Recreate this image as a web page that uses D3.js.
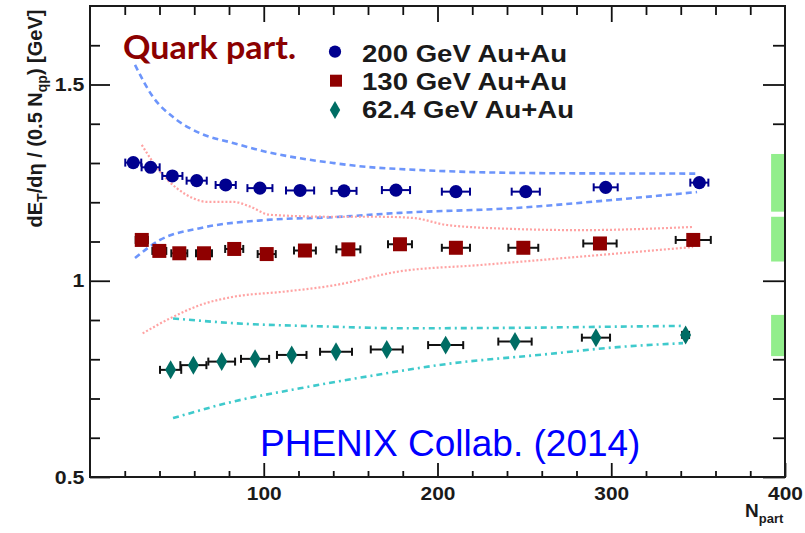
<!DOCTYPE html>
<html>
<head>
<meta charset="utf-8">
<script src="https://cdn.jsdelivr.net/npm/d3@7"></script>
<style>
  html, body { margin: 0; padding: 0; background: #fff; }
  svg { display: block; }
</style>
</head>
<body>
<svg id="chart" width="805" height="533"></svg>
<script>
// ---- data: transverse energy per quark participant pair vs N_part ----
const npart200 = [24.9, 34.9, 47.4, 61.4, 78.1, 97.8, 120.9, 146.2, 176.1, 210.6, 250.8, 296.8, 350.7];
const et200    = [1.301, 1.289, 1.267, 1.255, 1.244, 1.236, 1.230, 1.229, 1.231, 1.227, 1.227, 1.238, 1.250];
const xerr200  = [4.6, 5.2, 5.8, 5.8, 5.8, 7.2, 8.1, 7.2, 8.1, 8.1, 8.1, 6.9, 5.2];

const npart130 = [29.8, 39.9, 51.4, 65.6, 83.0, 101.7, 123.7, 148.7, 178.4, 210.6, 249.4, 293.5, 347.2];
const et130    = [1.104, 1.076, 1.070, 1.070, 1.081, 1.068, 1.077, 1.080, 1.093, 1.084, 1.084, 1.095, 1.104];
const xerr130  = [3.5, 4.0, 4.6, 4.6, 5.2, 5.2, 6.3, 6.9, 6.9, 8.1, 8.6, 9.6, 10.1];

const npart62 = [46.4, 59.5, 75.8, 95.0, 116.1, 141.6, 170.8, 204.7, 244.6, 291.2, 342.8];
const et62    = [0.773, 0.785, 0.794, 0.801, 0.811, 0.819, 0.825, 0.836, 0.845, 0.855, 0.862];
const xerr62  = [6.1, 7.5, 7.7, 8.1, 8.5, 9.2, 9.2, 10.1, 9.6, 8.1, 2.0];

// systematic uncertainty envelopes
const band200UpX = [25.9, 36.3, 47.8, 63.3, 82.3, 101.9, 120.9, 139.9, 159.4, 172.7, 263.0, 349.4];
const band200UpY = [1.550, 1.468, 1.417, 1.376, 1.351, 1.328, 1.312, 1.300, 1.290, 1.286, 1.274, 1.273];
const band200LoX = [25.9, 40.3, 63.3, 101.9, 139.9, 178.4, 243.5, 301.0, 349.4];
const band200LoY = [1.058, 1.104, 1.134, 1.155, 1.162, 1.173, 1.185, 1.206, 1.226];

const band130UpX = [29.8, 40.3, 49.9, 59.5, 67.2, 82.5, 92.1, 103.6, 139.9, 166.9, 185.9, 205.5, 243.5, 282.0, 347.1];
const band130UpY = [1.346, 1.278, 1.236, 1.210, 1.201, 1.201, 1.189, 1.168, 1.163, 1.163, 1.160, 1.142, 1.132, 1.129, 1.137];
const band130LoX = [30.3, 47.8, 63.3, 82.3, 111.1, 139.9, 178.4, 224.5, 270.5, 347.1];
const band130LoY = [0.866, 0.908, 0.938, 0.959, 0.972, 0.988, 1.024, 1.040, 1.057, 1.086];

const band62UpX = [47.8, 82.3, 139.9, 178.4, 243.5, 301.0, 341.3];
const band62UpY = [0.904, 0.892, 0.883, 0.879, 0.880, 0.883, 0.885];
const band62LoX = [47.8, 82.3, 120.9, 159.4, 205.5, 263.0, 301.0, 341.3];
const band62LoY = [0.650, 0.692, 0.726, 0.756, 0.788, 0.813, 0.830, 0.841];

// global scale uncertainties (boxes at the right edge)
const scaleBoxX  = [392, 400];
const scaleBoxLo = [1.176, 1.049, 0.808];
const scaleBoxHi = [1.323, 1.163, 0.913];

const xTickMajor = [100, 200, 300, 400];
const yTickMajor = [0.5, 1.0, 1.5];
const yTickLabels = ["0.5", "1", "1.5"];
const legendLabels = ["200 GeV Au+Au", "130 GeV Au+Au", "62.4 GeV Au+Au"];

// ---- layout ----
const svg = d3.select("#chart");
const L = 90, R = 785, T = 6, B = 477;
const x = d3.scaleLinear().domain([0, 400]).range([L, R]);
const y = d3.scaleLinear().domain([0.5, 1.7]).range([B, T]);

const ROOTFONT = "'Liberation Sans', Arial, sans-serif";
const col200 = "#00008f", col130 = "#8f0000", col62 = "#006d64";

// ---- axes (ticks drawn inward on all four sides) ----
const xMinor = d3.range(20, 400, 20).filter(v => v % 100 !== 0);
const yMinor = d3.range(0.6, 1.7, 0.1).map(v => +v.toFixed(1)).filter(v => Math.abs(v - 1.0) > 1e-6 && Math.abs(v - 1.5) > 1e-6);

function styleAxis(g) {
  g.select(".domain").remove();
  g.selectAll(".tick line").attr("stroke", "#111").attr("stroke-width", 1.8);
}

// bottom
svg.append("g").attr("transform", `translate(0,${B})`)
  .call(d3.axisBottom(x).tickValues(xMinor).tickSize(-6).tickSizeOuter(0).tickFormat(""))
  .call(styleAxis);
const xAxisMajor = svg.append("g").attr("transform", `translate(0,${B})`)
  .call(d3.axisBottom(x).tickValues(xTickMajor).tickSize(-14).tickSizeOuter(0).tickPadding(10).tickFormat(d3.format("d")))
  .call(styleAxis);
xAxisMajor.selectAll(".tick text")
  .attr("font-family", ROOTFONT).attr("font-weight", "bold").attr("font-size", 19)
  .attr("fill", "#1a1a1a").attr("transform", "scale(1.1,1)");

// top
svg.append("g").attr("transform", `translate(0,${T})`)
  .call(d3.axisTop(x).tickValues(xMinor).tickSize(-9).tickSizeOuter(0).tickFormat(""))
  .call(styleAxis);
svg.append("g").attr("transform", `translate(0,${T})`)
  .call(d3.axisTop(x).tickValues(xTickMajor.slice(0, 3)).tickSize(-16).tickSizeOuter(0).tickFormat(""))
  .call(styleAxis);

// left
svg.append("g").attr("transform", `translate(${L},0)`)
  .call(d3.axisLeft(y).tickValues(yMinor).tickSize(-10).tickSizeOuter(0).tickFormat(""))
  .call(styleAxis);
const yAxisMajor = svg.append("g").attr("transform", `translate(${L},0)`)
  .call(d3.axisLeft(y).tickValues(yTickMajor).tickSize(-20).tickSizeOuter(0).tickPadding(5)
    .tickFormat((d, i) => yTickLabels[i]))
  .call(styleAxis);
yAxisMajor.selectAll(".tick text")
  .attr("font-family", ROOTFONT).attr("font-weight", "bold").attr("font-size", 19)
  .attr("fill", "#1a1a1a").attr("transform", "scale(1.12,1)");

// right
svg.append("g").attr("transform", `translate(${R},0)`)
  .call(d3.axisRight(y).tickValues(yMinor).tickSize(-12).tickSizeOuter(0).tickFormat(""))
  .call(styleAxis);
svg.append("g").attr("transform", `translate(${R},0)`)
  .call(d3.axisRight(y).tickValues(yTickMajor).tickSize(-22).tickSizeOuter(0).tickFormat(""))
  .call(styleAxis);

// ---- systematic envelopes ----
const line = d3.line().x(d => x(d[0])).y(d => y(d[1])).curve(d3.curveMonotoneX);
const zip = (xs, ys) => xs.map((v, i) => [v, ys[i]]);

const bands = [
  { xs: band200UpX, ys: band200UpY, color: "#6d95fb", width: 2.6, dash: "6,4" },
  { xs: band200LoX, ys: band200LoY, color: "#6d95fb", width: 2.6, dash: "6,4" },
  { xs: band130UpX, ys: band130UpY, color: "#ffa3a3", width: 2.2, dash: "2,2" },
  { xs: band130LoX, ys: band130LoY, color: "#ffa3a3", width: 2.2, dash: "2,2" },
  { xs: band62UpX,  ys: band62UpY,  color: "#3fcacc", width: 2.6, dash: "6,4,2,4" },
  { xs: band62LoX,  ys: band62LoY,  color: "#3fcacc", width: 2.6, dash: "6,4,2,4" }
];
svg.append("g").selectAll("path").data(bands).join("path")
  .attr("d", d => line(zip(d.xs, d.ys)))
  .attr("fill", "none")
  .attr("stroke", d => d.color)
  .attr("stroke-width", d => d.width)
  .attr("stroke-dasharray", d => d.dash);

// ---- global scale boxes ----
svg.append("g").selectAll("rect").data(scaleBoxLo).join("rect")
  .attr("x", x(scaleBoxX[0]))
  .attr("width", x(scaleBoxX[1]) - x(scaleBoxX[0]))
  .attr("y", (d, i) => y(scaleBoxHi[i]))
  .attr("height", (d, i) => y(d) - y(scaleBoxHi[i]))
  .attr("fill", "#92ee8c");

// ---- frame ----
svg.append("rect").attr("x", L).attr("y", T).attr("width", R - L).attr("height", B - T)
  .attr("fill", "none").attr("stroke", "#1a1a1a").attr("stroke-width", 2);

// ---- data series with horizontal error bars ----
const series = [
  { xs: npart200, ys: et200, ex: xerr200, color: col200, barColor: col200, symbol: d3.symbolCircle, size: 135 },
  { xs: npart130, ys: et130, ex: xerr130, color: col130, barColor: "#111", symbol: d3.symbolSquare, size: 196 },
  { xs: npart62,  ys: et62,  ex: xerr62,  color: col62,  barColor: "#111", symbol: d3.symbolDiamond, size: 104 }
];

series.forEach(s => {
  const g = svg.append("g");
  const pts = s.xs.map((v, i) => ({ n: v, e: s.ys[i], dx: s.ex[i] }));
  const eb = g.append("g").attr("stroke", s.barColor).attr("stroke-width", 2);
  eb.selectAll("line.h").data(pts).join("line").attr("class", "h")
    .attr("x1", d => x(d.n - d.dx)).attr("x2", d => x(d.n + d.dx))
    .attr("y1", d => y(d.e)).attr("y2", d => y(d.e));
  eb.selectAll("line.l").data(pts).join("line").attr("class", "l")
    .attr("x1", d => x(d.n - d.dx)).attr("x2", d => x(d.n - d.dx))
    .attr("y1", d => y(d.e) - 4).attr("y2", d => y(d.e) + 4);
  eb.selectAll("line.r").data(pts).join("line").attr("class", "r")
    .attr("x1", d => x(d.n + d.dx)).attr("x2", d => x(d.n + d.dx))
    .attr("y1", d => y(d.e) - 4).attr("y2", d => y(d.e) + 4);
  g.selectAll("path").data(pts).join("path")
    .attr("d", d3.symbol().type(s.symbol).size(s.size))
    .attr("transform", d => `translate(${x(d.n)},${y(d.e)})`)
    .attr("fill", s.color);
});

// ---- legend ----
const legendSymbols = [
  { symbol: d3.symbolCircle, size: 118, color: col200, cx: 335, cy: 51.7 },
  { symbol: d3.symbolSquare, size: 144, color: col130, cx: 336, cy: 80.7 },
  { symbol: d3.symbolDiamond, size: 94, color: col62, cx: 335, cy: 110 }
];
const legendBaselines = [61.7, 90, 118.3];
const legendWidths = [205, 205, 212];
const lg = svg.append("g");
lg.selectAll("path").data(legendSymbols).join("path")
  .attr("d", d => d3.symbol().type(d.symbol).size(d.size)())
  .attr("transform", d => `translate(${d.cx},${d.cy})`)
  .attr("fill", d => d.color);
lg.selectAll("text").data(legendLabels).join("text")
  .attr("x", 362)
  .attr("y", (d, i) => legendBaselines[i])
  .attr("textLength", (d, i) => legendWidths[i])
  .attr("lengthAdjust", "spacingAndGlyphs")
  .attr("font-family", ROOTFONT).attr("font-weight", "bold").attr("font-size", 23)
  .attr("fill", "#1a1a1a")
  .text(d => d);

svg.append("text")
  .attr("x", 123).attr("y", 58.5)
  .attr("textLength", 173).attr("lengthAdjust", "spacingAndGlyphs")
  .attr("font-family", "Lato, 'Open Sans', sans-serif").attr("font-weight", "bold").attr("font-size", 33)
  .attr("fill", "#8b0000")
  .text("Quark part.");

svg.append("text")
  .attr("x", 260).attr("y", 456)
  .attr("font-family", ROOTFONT).attr("font-size", 37)
  .attr("fill", "#0000ff")
  .text("PHENIX Collab. (2014)");

// ---- axis titles ----
const yt = svg.append("text")
  .attr("transform", "translate(42,118.5) rotate(-90)")
  .attr("text-anchor", "middle")
  .attr("font-family", ROOTFONT).attr("font-weight", "bold").attr("font-size", 20)
  .attr("fill", "#1a1a1a");
yt.append("tspan").text("dE");
yt.append("tspan").attr("font-size", 14).attr("dy", 5).text("T");
yt.append("tspan").attr("dy", -5).text("/d\u03B7 / (0.5 N");
yt.append("tspan").attr("font-size", 14).attr("dy", 5).text("qp");
yt.append("tspan").attr("dy", -5).text(") [GeV]");

const xt = svg.append("text")
  .attr("x", 745).attr("y", 516.7)
  .attr("font-family", ROOTFONT).attr("font-weight", "bold").attr("font-size", 19)
  .attr("fill", "#1a1a1a");
xt.append("tspan").text("N");
xt.append("tspan").attr("font-size", 13).attr("dy", 6.5).text("part");
</script>
</body>
</html>
